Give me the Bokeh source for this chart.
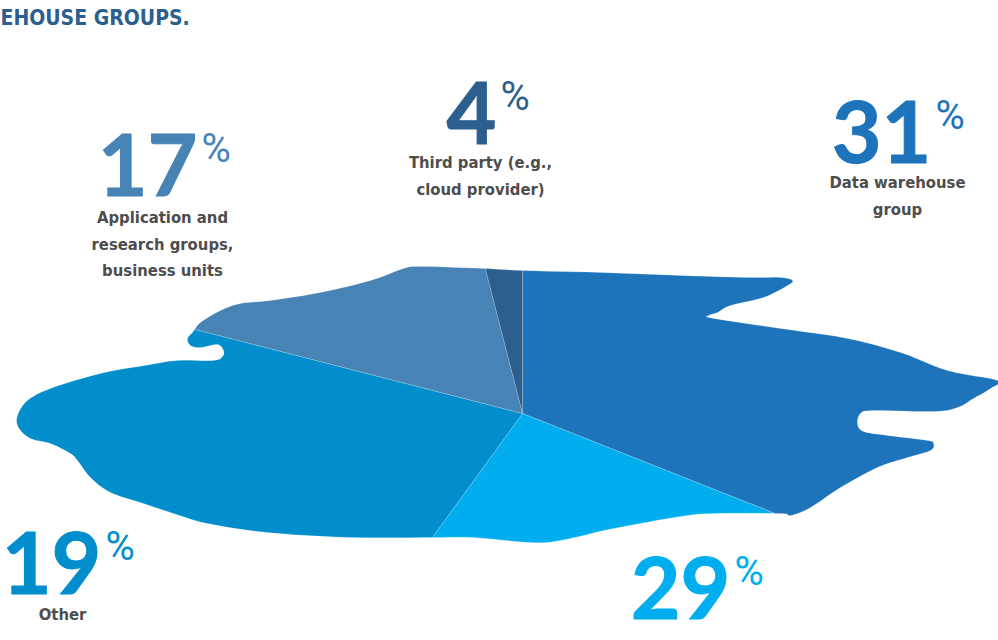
import math
from bokeh.plotting import figure
from bokeh.models import ColumnDataSource, Range1d
from bokeh.core.properties import value
from bokeh.embed import file_html
from bokeh.resources import INLINE

# ---------------- data ----------------
categories = ["Data warehouse group", "", "Other",
              "Application and research groups, business units",
              "Third party (e.g., cloud provider)"]
shares = [31, 29, 19, 17, 4]
colors = ["#1D74BB", "#00AEEF", "#028ECD", "#4783B5", "#2C5F8E"]
label_lines = [["Data warehouse", "group"], [], ["Other"],
               ["Application and", "research groups,", "business units"],
               ["Third party (e.g.,", "cloud provider)"]]
title_text = "EHOUSE GROUPS."

# ---------------- layout / style ----------------
W, H = 998, 640
CX, CY = 522, 413          # pie centre (pixel space, y down)
num_anchor = [(931, 162), (730, 618), (101, 593), (197, 195), (496, 143)]
label_anchor = [(897, 188), (680, 662), (62, 620), (162, 223), (480, 168)]
LINE_GAP = 26.5
NUM_FONT = "Lato"
PCT_FONT = "Roboto"
TXT_FONT = "DejaVu Sans Condensed"
LABEL_COLOR = "#4D4D4D"
BASE_K = 0.36               # baseline correction (fraction of font size)
NUM_SIZE, PCT_SIZE, LBL_SIZE, TTL_SIZE = 86, 40, 16.5, 21

# decorative puddle outline (shape of the pie), pixel space
puddle = [(483, 268), (522, 270), (600, 272), (680, 275), (747, 277), (780, 277),
          (792, 280), (787, 285), (763, 297), (730, 305), (717, 312), (708, 315),
          (713, 318), (780, 328), (847, 338), (900, 352), (947, 370), (997, 380),
          (990, 388), (973, 398), (957, 407), (933, 411), (873, 410), (860, 413),
          (857, 423), (863, 431), (887, 435), (927, 440), (933, 443), (930, 450),
          (907, 457), (877, 467), (840, 487), (810, 507), (790, 515), (780, 513),
          (713, 513), (680, 516), (613, 528), (560, 540), (530, 542), (473, 537),
          (433, 537), (350, 537), (267, 532), (207, 523), (173, 513), (143, 503),
          (110, 492), (90, 477), (77, 460), (70, 453), (50, 443), (30, 438),
          (18, 427), (17, 415), (27, 400), (50, 388), (100, 373), (150, 364),
          (177, 360), (213, 360), (222, 356), (223, 350), (217, 344), (200, 347),
          (190, 345), (187, 338), (192, 332), (200, 322), (220, 310), (240, 303),
          (270, 300), (320, 292), (370, 280), (403, 268), (420, 266)]


def smooth(pts, sub=6):
    """closed Catmull-Rom spline through the outline points"""
    n = len(pts)
    res = []
    for i in range(n):
        p0, p1, p2, p3 = pts[i - 1], pts[i], pts[(i + 1) % n], pts[(i + 2) % n]
        for k in range(sub):
            t = k / sub
            t2, t3 = t * t, t * t * t
            x = 0.5 * ((2 * p1[0]) + (-p0[0] + p2[0]) * t +
                       (2 * p0[0] - 5 * p1[0] + 4 * p2[0] - p3[0]) * t2 +
                       (-p0[0] + 3 * p1[0] - 3 * p2[0] + p3[0]) * t3)
            y = 0.5 * ((2 * p1[1]) + (-p0[1] + p2[1]) * t +
                       (2 * p0[1] - 5 * p1[1] + 4 * p2[1] - p3[1]) * t2 +
                       (-p0[1] + 3 * p1[1] - 3 * p2[1] + p3[1]) * t3)
            res.append((x, y))
    return res


def clip_polygon(subject, clipper):
    area = 0.0
    n = len(clipper)
    for i in range(n):
        x1, y1 = clipper[i]
        x2, y2 = clipper[(i + 1) % n]
        area += x1 * y2 - x2 * y1
    sgn = 1 if area > 0 else -1
    out = list(subject)
    for i in range(n):
        a = clipper[i]
        b = clipper[(i + 1) % n]

        def inside(p):
            return sgn * ((b[0] - a[0]) * (p[1] - a[1]) - (b[1] - a[1]) * (p[0] - a[0])) >= 0

        def inter(p, q):
            dx1, dy1 = q[0] - p[0], q[1] - p[1]
            dx2, dy2 = b[0] - a[0], b[1] - a[1]
            den = dx1 * dy2 - dy1 * dx2
            t = ((a[0] - p[0]) * dy2 - (a[1] - p[1]) * dx2) / den
            return (p[0] + t * dx1, p[1] + t * dy1)

        inp = out
        out = []
        if not inp:
            break
        for j in range(len(inp)):
            cur = inp[j]
            prev = inp[j - 1]
            if inside(cur):
                if not inside(prev):
                    out.append(inter(prev, cur))
                out.append(cur)
            elif inside(prev):
                out.append(inter(prev, cur))
    return out


outline = smooth(puddle)
total = float(sum(shares))
xs, ys = [], []
acc = 0.0
for s in shares:
    a0 = 360.0 * acc / total
    a1 = 360.0 * (acc + s) / total
    acc += s
    R = 2000.0
    steps = max(2, int((a1 - a0) / 4) + 1)
    wedge = [(CX, CY)]
    for k in range(steps + 1):
        th = math.radians(a0 + (a1 - a0) * k / steps)
        wedge.append((CX + R * math.sin(th), CY - R * math.cos(th)))
    poly = clip_polygon(outline, wedge)
    xs.append([p[0] for p in poly])
    ys.append([p[1] for p in poly])

p = figure(width=W, height=H, x_range=Range1d(0, W), y_range=Range1d(H, 0),
           output_backend="svg", toolbar_location=None,
           x_axis_location=None, y_axis_location=None, min_border=0)
p.grid.visible = False
p.outline_line_color = None
p.background_fill_color = "white"
p.border_fill_color = "white"

src = ColumnDataSource(dict(xs=xs, ys=ys, color=colors, cat=categories))
p.patches("xs", "ys", source=src, fill_color="color", line_color="white",
          line_alpha=0.3, line_width=0.6)

# numbers
nsrc = ColumnDataSource(dict(x=[a[0] for a in num_anchor],
                             y=[a[1] - BASE_K * NUM_SIZE for a in num_anchor],
                             t=[str(s) for s in shares], c=colors))
p.text("x", "y", text="t", source=nsrc, text_color="c", text_font=value(NUM_FONT),
       text_font_style="bold", text_font_size=f"{NUM_SIZE}px", text_align="right",
       text_baseline="alphabetic", text_outline_color="c")
# percent signs
psrc = ColumnDataSource(dict(x=[a[0] + 4 for a in num_anchor],
                             y=[a[1] - 33 - BASE_K * PCT_SIZE for a in num_anchor],
                             t=["%"] * len(shares), c=colors))
p.text("x", "y", text="t", source=psrc, text_color="c", text_font=value(PCT_FONT),
       text_font_size=f"{PCT_SIZE}px", text_align="left", text_baseline="alphabetic")

# category labels
lx, ly, lt = [], [], []
for (ax, ay), lines in zip(label_anchor, label_lines):
    for k, line in enumerate(lines):
        lx.append(ax)
        ly.append(ay + k * LINE_GAP - BASE_K * LBL_SIZE)
        lt.append(line)
lsrc = ColumnDataSource(dict(x=lx, y=ly, t=lt))
p.text("x", "y", text="t", source=lsrc, text_color=LABEL_COLOR,
       text_font=value(TXT_FONT), text_font_style="bold", text_font_size=f"{LBL_SIZE}px",
       text_align="center", text_baseline="alphabetic")

# title fragment
p.text(x=[0], y=[25 - BASE_K * TTL_SIZE], text=[title_text], text_color="#2C5F8E",
       text_font=value(TXT_FONT), text_font_style="bold", text_font_size=f"{TTL_SIZE}px",
       text_align="left", text_baseline="alphabetic")

open("out.html", "w").write(file_html(p, INLINE))
